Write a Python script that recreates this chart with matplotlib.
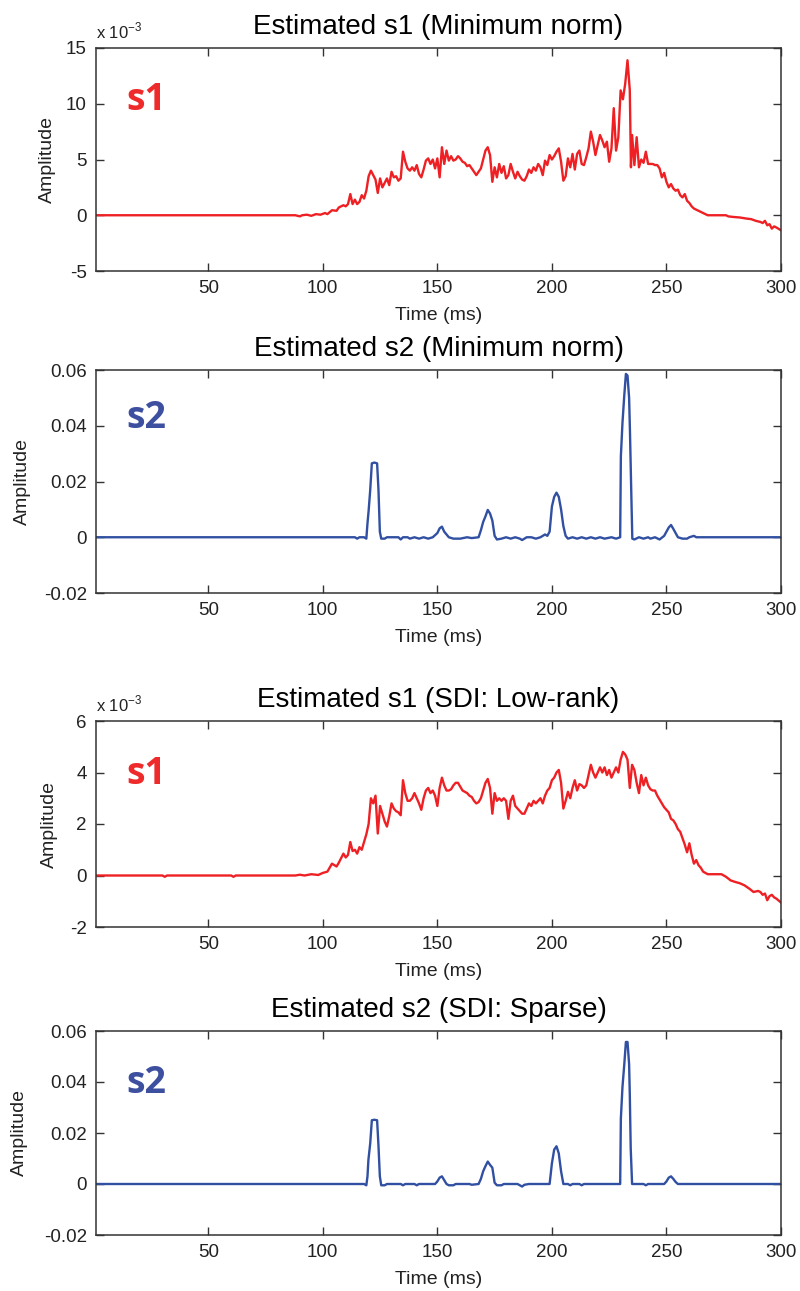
import matplotlib
matplotlib.use('Agg')
import matplotlib.pyplot as plt

# estimated sources, values
# s1 (minimum norm), amplitude in units of 1e-3
s1_mn = [(1, 0), (88, 0), (90, -0.1), (91, 0), (93, 0.05), (95, -0.05), (97, 0.1), (99, 0.05),
         (101, 0.2), (102, 0.1), (104, 0.45), (106, 0.4), (107, 0.7), (109, 0.9), (110, 0.8),
         (111, 1.0), (112, 1.9), (113, 1.0), (114, 1.4), (115, 1.0), (116, 1.2), (117, 1.8),
         (118, 1.5), (119, 2.2), (120, 3.5), (121, 4.0), (122, 3.6), (123, 3.2), (124, 2.0),
         (125, 3.3), (126, 2.5), (127, 2.9), (128, 3.3), (129, 2.7), (130, 3.9), (131, 3.4),
         (132, 3.5), (133, 3.1), (134, 3.3), (135, 5.7), (136, 4.8), (137, 4.2), (138, 4.0),
         (139, 4.3), (140, 4.0), (141, 4.5), (142, 3.7), (143, 3.4), (144, 4.1), (145, 4.9),
         (146, 5.1), (147, 4.6), (148, 5.0), (149, 4.2), (150, 5.1), (151, 3.4), (152, 6.1),
         (153, 4.6), (154, 5.8), (155, 4.9), (156, 5.3), (157, 4.9), (158, 5.0), (159, 5.3),
         (160, 5.1), (161, 4.8), (162, 4.7), (163, 4.4), (164, 4.5), (165, 4.2), (166, 3.9),
         (167, 3.6), (168, 3.9), (169, 4.2), (170, 5.0), (171, 5.8), (172, 6.1), (173, 5.4),
         (174, 3.0), (175, 4.3), (176, 3.4), (177, 4.6), (178, 3.8), (179, 4.4), (180, 3.3),
         (181, 3.6), (182, 4.6), (183, 3.9), (184, 3.3), (185, 3.9), (186, 3.5), (187, 3.2),
         (188, 3.1), (189, 3.5), (190, 4.1), (191, 3.8), (192, 4.3), (193, 4.0), (194, 4.6),
         (195, 4.3), (196, 3.6), (197, 4.9), (198, 4.5), (199, 5.4), (200, 5.0), (201, 5.3),
         (202, 5.7), (203, 6.0), (204, 4.8), (205, 3.1), (206, 3.5), (207, 5.1), (208, 4.3),
         (209, 5.5), (210, 4.1), (211, 5.5), (212, 5.8), (213, 4.6), (214, 4.5), (215, 5.2),
         (216, 6.0), (217, 7.5), (218, 6.6), (219, 5.4), (220, 6.3), (221, 7.2), (222, 6.7),
         (223, 6.1), (224, 6.6), (225, 4.8), (226, 6.0), (227, 9.6), (228, 5.8), (229, 7.0),
         (230, 11.2), (231, 10.4), (232, 11.8), (233, 13.9), (234, 11.2), (234.5, 4.3),
         (235, 7.2), (236, 4.5), (237, 7.0), (238, 4.3), (239, 5.0), (240, 4.7), (241, 5.7),
         (242, 4.6), (243, 4.6), (244, 4.6), (245, 4.5), (246, 4.5), (247, 4.2), (248, 3.4),
         (249, 3.8), (250, 3.0), (251, 2.5), (252, 2.8), (253, 2.4), (254, 2.2), (255, 2.3),
         (256, 1.8), (257, 1.6), (258, 1.9), (259, 1.3), (260, 1.1), (261, 0.8), (262, 0.6),
         (263, 0.5), (264, 0.4), (265, 0.3), (267, 0.1), (268, 0), (276, 0), (277, -0.1),
         (279, -0.15), (282, -0.2), (285, -0.3), (287, -0.35), (289, -0.5), (291, -0.6),
         (292, -0.7), (293, -0.5), (294, -0.9), (295, -0.8), (296, -1.2), (297, -1.0),
         (298, -1.1), (300, -1.35)]

# s2 (minimum norm)
s2_mn = [(1, 0), (114, 0), (115, -0.0005), (116, 0), (118, 0), (119, -0.0005), (119.5, 0.005),
         (120, 0.0095), (120.7, 0.017), (121.4, 0.0265), (122.5, 0.0268), (123.7, 0.0265),
         (124.3, 0.017), (124.9, 0.002), (125.5, -0.0005), (127, -0.0005), (128, 0), (133, 0),
         (134, -0.0008), (135, 0), (137, 0), (138, -0.0005), (140, 0), (142, -0.0005), (144, 0),
         (146, -0.0005), (148, 0), (150, 0.0015), (151, 0.0032), (152, 0.0038), (153, 0.002),
         (154, 0.001), (155, 0), (157, -0.0005), (160, -0.0005), (163, 0), (165, -0.0003),
         (168, 0), (169, 0.0025), (170, 0.0055), (171, 0.0075), (172, 0.0098), (173, 0.0085),
         (174, 0.006), (175, 0.0005), (176, -0.0008), (178, -0.0005), (180, 0), (182, -0.0005),
         (184, 0), (186, -0.0005), (187, -0.001), (189, 0), (191, 0), (193, -0.0005), (195, 0),
         (197, 0.001), (198, 0.0005), (199, 0.002), (200, 0.011), (201, 0.0145), (202, 0.016),
         (203, 0.0145), (204, 0.010), (205, 0.004), (206, 0.0005), (207, -0.0005), (209, 0),
         (211, -0.0005), (213, 0), (215, -0.0005), (217, 0), (219, -0.0005), (221, 0),
         (223, -0.0005), (226, 0), (228, -0.0005), (229.8, 0), (230.1, 0.029), (230.8, 0.041),
         (231.6, 0.051), (232.3, 0.0586), (233, 0.058), (233.7, 0.050), (234.1, 0.037),
         (234.7, 0.014), (235.1, -0.0005), (236, -0.0008), (238, 0), (240, -0.0005), (242, 0),
         (243, -0.0005), (245, 0), (247, -0.0008), (249, 0.0005), (250, 0.002), (251, 0.0035),
         (252, 0.0044), (253, 0.003), (254, 0.0015), (255, 0), (257, -0.0005), (259, -0.0005),
         (260, 0), (262, 0.0005), (263, 0), (300, 0)]

# s1 (SDI low-rank), amplitude in units of 1e-3
s1_sdi = [(1, 0), (30, 0), (31, -0.05), (32, 0), (60, 0), (61, -0.05), (62, 0), (88, 0),
          (90, 0.03), (92, 0), (95, 0.05), (98, 0.02), (100, 0.1), (102, 0.15), (104, 0.46),
          (106, 0.35), (107, 0.5), (109, 0.85), (110, 0.7), (111, 0.8), (112, 1.3), (113, 0.95),
          (114, 1.0), (115, 0.85), (116, 1.1), (117, 1.0), (118, 1.3), (119, 1.6), (120, 2.0),
          (121, 3.0), (122, 2.8), (123, 3.1), (124, 1.63), (125, 2.7), (126, 2.4), (127, 2.1),
          (128, 1.9), (129, 2.3), (130, 2.8), (131, 2.6), (132, 2.5), (133, 2.45), (134, 2.34),
          (135, 3.7), (136, 3.2), (137, 2.9), (138, 2.9), (139, 3.0), (140, 3.2), (141, 3.0),
          (142, 2.8), (143, 2.55), (144, 3.0), (145, 3.3), (146, 3.4), (147, 3.2), (148, 3.3),
          (149, 3.1), (150, 2.7), (151, 3.4), (152, 3.8), (153, 3.5), (154, 3.3), (155, 3.3),
          (156, 3.35), (157, 3.5), (158, 3.6), (159, 3.6), (160, 3.45), (161, 3.3), (162, 3.25),
          (163, 3.2), (164, 3.1), (165, 3.05), (166, 2.9), (167, 2.8), (168, 2.85), (169, 3.0),
          (170, 3.3), (171, 3.6), (172, 3.75), (173, 3.4), (174, 2.4), (175, 3.2), (176, 2.9),
          (177, 3.0), (178, 2.9), (179, 3.0), (180, 2.9), (181, 2.2), (182, 2.9), (183, 3.1),
          (184, 2.7), (185, 2.6), (186, 2.5), (187, 2.4), (188, 2.4), (189, 2.6), (190, 2.8),
          (191, 2.7), (192, 2.9), (193, 2.8), (194, 2.9), (195, 3.0), (196, 2.8), (197, 3.1),
          (198, 3.3), (199, 3.4), (200, 3.7), (201, 3.8), (202, 4.0), (203, 4.1), (204, 3.6),
          (205, 2.6), (206, 2.9), (207, 3.25), (208, 3.0), (209, 3.4), (210, 3.7), (211, 3.3),
          (212, 3.55), (213, 3.5), (214, 3.4), (215, 3.5), (216, 3.9), (217, 4.3), (218, 4.0),
          (219, 3.8), (220, 4.0), (221, 4.2), (222, 4.0), (223, 4.2), (224, 3.9), (225, 4.1),
          (226, 3.8), (227, 4.0), (228, 4.2), (229, 4.0), (230, 4.5), (231, 4.8), (232, 4.7),
          (233, 4.5), (234, 3.4), (235, 4.3), (236, 4.1), (237, 3.6), (238, 3.2), (239, 3.9),
          (240, 3.5), (241, 3.8), (242, 3.5), (243, 3.35), (244, 3.3), (245, 3.3), (246, 3.1),
          (247, 2.95), (248, 2.8), (249, 2.65), (250, 2.55), (251, 2.45), (252, 2.2),
          (253, 2.14), (254, 2.0), (255, 1.8), (256, 1.7), (257, 1.45), (258, 1.2), (259, 0.9),
          (260, 1.25), (261, 0.8), (262, 0.46), (263, 0.6), (264, 0.4), (265, 0.3), (266, 0.15),
          (268, 0.05), (274, 0.05), (276, -0.05), (278, -0.19), (280, -0.25), (282, -0.3),
          (284, -0.38), (286, -0.5), (288, -0.64), (290, -0.6), (291, -0.64), (292, -0.75),
          (293, -0.7), (294, -0.96), (295, -0.8), (296, -0.75), (297, -0.85), (298, -0.9),
          (300, -1.05)]

# s2 (SDI sparse)
s2_sdi = [(1, 0), (118, 0), (119, -0.0005), (119.5, 0.003), (119.9, 0.0094), (120.7, 0.016),
          (121.4, 0.025), (122.5, 0.0252), (123.7, 0.025), (124.3, 0.015), (124.9, 0.003),
          (125.5, -0.0005), (127, -0.0005), (128, 0), (134, 0), (135, -0.0005), (136, 0),
          (140, 0), (141, -0.0005), (142, 0), (149, 0), (150, 0.001), (151, 0.0025),
          (152, 0.003), (153, 0.0015), (154, 0), (155, -0.0005), (157, -0.0005), (158, 0),
          (164, 0), (165, -0.0003), (168, 0), (169, 0.002), (170, 0.005), (171, 0.007),
          (172, 0.0088), (173, 0.0075), (174, 0.0064), (175, 0.0005), (176, -0.0005),
          (178, -0.0005), (179, 0), (185, 0), (186, -0.0005), (187, -0.001), (188, -0.0003),
          (190, 0), (199, 0), (200, 0.0081), (201, 0.0135), (202, 0.0148), (203, 0.012),
          (204, 0.005), (205, 0), (207, 0), (208, -0.0005), (209, 0), (212, 0), (213, -0.0005),
          (214, 0), (220, 0), (229.8, 0), (230.1, 0.0257), (230.8, 0.038), (231.6, 0.047),
          (232.3, 0.0557), (233, 0.0557), (233.7, 0.047), (234, 0.035), (234.4, 0.014),
          (235, 0), (240, 0), (241, -0.0005), (242, 0), (249, 0), (250, 0.001), (251, 0.0025),
          (252, 0.003), (253, 0.002), (254, 0.0008), (255, 0), (300, 0)]

titles = ['Estimated s1 (Minimum norm)', 'Estimated s2 (Minimum norm)',
          'Estimated s1 (SDI: Low-rank)', 'Estimated s2 (SDI: Sparse)']
tags = ['s1', 's2', 's1', 's2']
series = [s1_mn, s2_mn, s1_sdi, s2_sdi]
ylims = [(-5, 15), (-0.02, 0.06), (-2, 6), (-0.02, 0.06)]
yticks = [[-5, 0, 5, 10, 15], [-0.02, 0, 0.02, 0.04, 0.06],
          [-2, 0, 2, 4, 6], [-0.02, 0, 0.02, 0.04, 0.06]]
yticklabels = [['-5', '0', '5', '10', '15'], ['-0.02', '0', '0.02', '0.04', '0.06'],
               ['-2', '0', '2', '4', '6'], ['-0.02', '0', '0.02', '0.04', '0.06']]
xticks = [50, 100, 150, 200, 250, 300]

red = '#ee2024'
blue = '#3150a2'
colors = [red, blue, red, blue]
tag_colors = ['#ee2a2a', '#3d4f9f', '#ee2a2a', '#3d4f9f']
scaled = [True, False, True, False]

plt.rcParams['font.family'] = ['Liberation Sans', 'DejaVu Sans']
plt.rcParams['mathtext.fontset'] = 'custom'
plt.rcParams['mathtext.rm'] = 'Liberation Sans'
plt.rcParams['axes.unicode_minus'] = False

W, H = 800, 1291
fig = plt.figure(figsize=(W / 100, H / 100), dpi=100)

# axes boxes in pixels: left, top, right, bottom
boxes = [(96, 48, 781, 271), (96, 370, 781, 593), (96, 721, 781, 927), (96, 1031, 781, 1235)]
tag_pos = [0.767, 0.785, 0.741, 0.744]
ylab_x = [56, 31, 58, 28]   # right edge of the rotated "Amplitude" label, px

for i in range(4):
    l, t, r, b = boxes[i]
    ax = fig.add_axes([l / W, 1 - b / H, (r - l) / W, (b - t) / H])
    xs = [p[0] for p in series[i]]
    ys = [p[1] for p in series[i]]
    ax.plot(xs, ys, color=colors[i], lw=1.7)
    ax.set_xlim(1, 300)
    ax.set_ylim(*ylims[i])
    ax.set_xticks(xticks)
    ax.set_yticks(yticks[i])
    ax.set_yticklabels(yticklabels[i])
    ax.tick_params(direction='in', top=True, right=True, length=6, width=1,
                   labelsize=13.5, pad=6.5, colors='#333333', labelcolor='#222222')
    for s in ax.spines.values():
        s.set_color('#333333')
        s.set_linewidth(1.1)
    ax.set_title(titles[i], fontsize=20, pad=10)
    ax.set_xlabel('Time (ms)', fontsize=14, labelpad=7, color='#222222')
    ax.set_ylabel('Amplitude', fontsize=14, color='#222222')
    ax.yaxis.set_label_coords((ylab_x[i] - l) / (r - l), 0.5)
    ax.text(0.073, tag_pos[i], tags[i], transform=ax.transAxes, ha='center', va='center',
            fontsize=27, fontweight='bold', family='Open Sans', color=tag_colors[i])
    if scaled[i]:
        ax.text(0.0, 1.03, r'x 10$^{-3}$', transform=ax.transAxes, ha='left', va='bottom',
                fontsize=12, color='#222222')

fig.savefig('out.png', dpi=100)
